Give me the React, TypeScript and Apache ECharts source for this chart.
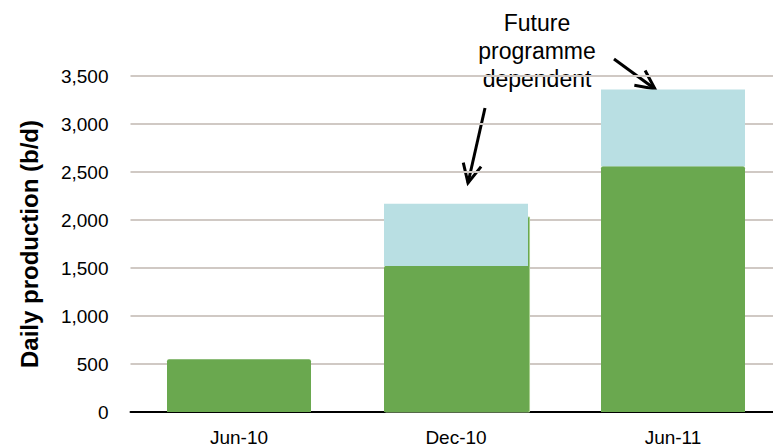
import React, { useEffect, useRef } from "react";
import * as echarts from "echarts";

// Period labels along the bottom axis
const categories = ["Jun-10", "Dec-10", "Jun-11"];
// Current daily production (b/d)
const currentProduction = [550, 1520, 2560];
// Additional production that depends on the future programme (b/d)
const futureProduction = [0, 650, 800];
// Partly-complete production level sitting behind the Dec-10 column (b/d)
const underlayProduction = [null, 2030, null];
// Value axis ticks
const yMin = 0;
const yMax = 3500;
const yInterval = 500;

const GREEN = "#6aa84f";
const BLUE = "#b9dfe3";
const FONT = "'Liberation Sans', Arial, sans-serif";

export default function App() {
  const ref = useRef<HTMLDivElement>(null);

  useEffect(() => {
    if (!ref.current) return;
    const chart = echarts.init(ref.current, null, { renderer: "svg" });

    const arrowHead = (tipX: number, tipY: number, angle: number) => {
      const len = 21;
      const spread = 0.45;
      const a1 = angle + Math.PI - spread;
      const a2 = angle + Math.PI + spread;
      return [
        [tipX + len * Math.cos(a1), tipY + len * Math.sin(a1)],
        [tipX, tipY],
        [tipX + len * Math.cos(a2), tipY + len * Math.sin(a2)],
      ];
    };
    const arrowStyle = { stroke: "#000", lineWidth: 3, fill: "none", lineJoin: "miter" };
    const leftTip: [number, number] = [468, 183];
    const leftTail: [number, number] = [485, 108];
    const rightTip: [number, number] = [655, 89];
    const rightTail: [number, number] = [614, 59];
    const angL = Math.atan2(leftTip[1] - leftTail[1], leftTip[0] - leftTail[0]);
    const angR = Math.atan2(rightTip[1] - rightTail[1], rightTip[0] - rightTail[0]);

    chart.setOption({
      animation: false,
      grid: { left: 130.5, right: 8.5, top: 76, bottom: 35, containLabel: false },
      xAxis: {
        type: "category",
        data: categories,
        axisLine: { show: true, lineStyle: { color: "#000", width: 2 } },
        axisTick: { show: false },
        axisLabel: { color: "#000", fontSize: 19, fontFamily: FONT, margin: 16 },
      },
      yAxis: {
        type: "value",
        min: yMin,
        max: yMax,
        interval: yInterval,
        name: "Daily production (b/d)",
        nameLocation: "middle",
        nameGap: 89,
        nameTextStyle: { color: "#000", fontSize: 24, fontWeight: "bold", fontFamily: FONT },
        axisLine: { show: false },
        axisTick: { show: false },
        axisLabel: {
          color: "#000",
          fontSize: 19,
          fontFamily: FONT,
          margin: 22,
          formatter: (v: number) => v.toLocaleString("en-US"),
        },
        splitLine: { lineStyle: { color: "#d0c9c4", width: 2 } },
      },
      series: [
        {
          type: "custom",
          name: "underlay",
          z: 1,
          data: underlayProduction.map((v, i) => (v == null ? [i, 0] : [i, v])),
          renderItem: (params: any, api: any) => {
            const v = underlayProduction[params.dataIndex];
            if (v == null) return null;
            const top = api.coord([api.value(0), v]);
            const base = api.coord([api.value(0), 0]);
            const w = api.size([1, 0])[0] * 0.664;
            return {
              type: "rect",
              shape: { x: top[0] - w / 2 + 1.5, y: top[1], width: w, height: base[1] - top[1] },
              style: { fill: GREEN, stroke: "#a9cf8f", lineWidth: 1 },
            };
          },
        },
        {
          type: "bar",
          name: "Current",
          stack: "total",
          data: currentProduction,
          barWidth: 144,
          z: 2,
          itemStyle: { color: GREEN, borderRadius: [2, 2, 0, 0] },
        },
        {
          type: "bar",
          name: "Future programme dependent",
          stack: "total",
          data: futureProduction,
          barWidth: 144,
          z: 3,
          itemStyle: { color: BLUE },
        },
      ],
      graphic: [
        {
          type: "text",
          x: 537,
          y: 9,
          style: {
            text: "Future\nprogramme\ndependent",
            align: "center",
            verticalAlign: "top",
            fill: "#000",
            font: `23px ${FONT}`,
            lineHeight: 28,
          },
        },
        {
          type: "line",
          shape: { x1: leftTail[0], y1: leftTail[1], x2: leftTip[0], y2: leftTip[1] },
          style: arrowStyle,
        },
        {
          type: "polyline",
          shape: { points: arrowHead(leftTip[0], leftTip[1], angL) },
          style: arrowStyle,
        },
        {
          type: "line",
          shape: { x1: rightTail[0], y1: rightTail[1], x2: rightTip[0], y2: rightTip[1] },
          style: arrowStyle,
        },
        {
          type: "polyline",
          shape: { points: arrowHead(rightTip[0], rightTip[1], angR) },
          style: arrowStyle,
        },
      ],
    });

    return () => chart.dispose();
  }, []);

  return (
    <div
      ref={ref}
      style={{ position: "fixed", left: 0, top: 0, width: 790, height: 447, background: "#fff" }}
    />
  );
}
